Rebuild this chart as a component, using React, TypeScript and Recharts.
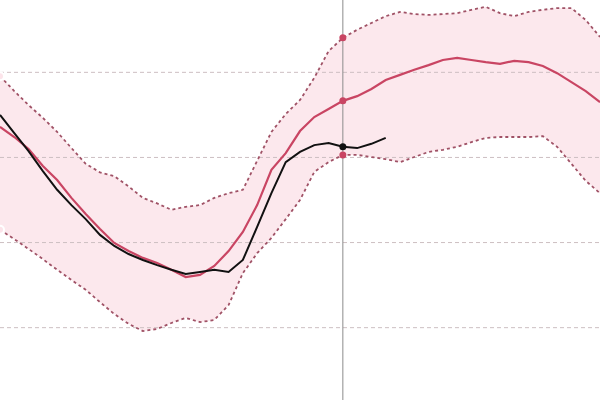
import React from 'react'
import { Area, ComposedChart, Line, ReferenceLine, XAxis, YAxis } from 'recharts'

// one value per step, step 24 is "today"
const upper = [
  79.1, 75.6, 72.3, 69.3, 66.0, 62.2, 58.5, 56.5, 55.6, 53.2, 50.5, 49.2, 47.7, 48.4, 48.8,
  50.5, 51.6, 52.4, 59.2, 66.0, 70.2, 73.5, 78.7, 85.0, 88.1, 90.0, 91.6, 93.2, 94.2, 93.7,
  93.5, 93.7, 93.9, 94.7, 95.4, 93.9, 93.2, 94.2, 94.7, 95.1, 95.1, 92.3, 88.3,
]
const lower = [
  43.0, 40.8, 38.5, 36.1, 33.6, 31.2, 28.9, 26.0, 23.2, 20.9, 19.2, 19.7, 21.1, 22.3, 21.3,
  21.8, 25.3, 32.8, 37.5, 41.1, 45.5, 50.0, 56.6, 58.9, 60.6, 60.6, 60.1, 59.6, 58.9, 60.1,
  61.3, 61.8, 62.5, 63.6, 64.6, 64.8, 64.8, 64.8, 65.0, 62.5, 58.5, 54.5, 51.6,
]
const mean = [
  67.2, 64.8, 62.0, 58.0, 54.7, 50.5, 46.7, 43.2, 39.9, 38.0, 36.4, 35.2, 33.6, 31.9, 32.4,
  34.5, 38.0, 42.5, 48.8, 57.1, 61.0, 66.2, 69.5, 71.4, 73.3, 74.4, 76.1, 78.2, 79.4, 80.6,
  81.7, 82.9, 83.4, 82.9, 82.4, 82.0, 82.7, 82.4, 81.5, 79.8, 77.7, 75.6, 73.0,
]
const actual = [
  70.0, 65.7, 61.5, 56.8, 52.4, 48.8, 45.5, 41.8, 39.2, 37.3, 35.9, 34.7, 33.6, 32.6, 33.1,
  33.6, 33.1, 35.9, 43.7, 51.6, 58.9, 61.3, 62.9, 63.4, 62.5, 62.2, 63.2, 64.6,
]
const TODAY = 24
const gridTicks = [20, 40, 60, 80]

const data = mean.map((m, i) => ({
  i,
  band: [lower[i], upper[i]],
  upper: upper[i],
  lower: lower[i],
  mean: m,
  actual: i < actual.length ? actual[i] : null,
}))

const RED = '#c94563'
const DOT_LINE = '#a05266'

function todayDot(color: string) {
  return (props: any) => {
    const { cx, cy, index } = props
    if (index !== TODAY || cx == null || cy == null) return <g key={`d${index}`} />
    return <circle key={`d${index}`} cx={cx} cy={cy} r={3.5} fill={color} stroke="none" />
  }
}

export default function App() {
  return (
    <div style={{ position: 'absolute', left: 0, top: 0, width: 600, height: 400, background: '#fff' }}>
      <ComposedChart width={600} height={400} data={data} margin={{ top: 0, right: 0, bottom: 0, left: 0 }}>
        <XAxis type="number" dataKey="i" domain={[0, 42]} hide />
        <YAxis domain={[3, 97]} ticks={gridTicks} hide />
        <Area
          type="linear"
          dataKey="band"
          fill="#fce4ea"
          fillOpacity={0.85}
          stroke="none"
          isAnimationActive={false}
        />
        {gridTicks.map((t) => (
          <ReferenceLine key={t} y={t} stroke="#cdbfc2" strokeDasharray="4 3" strokeWidth={1} />
        ))}
        <ReferenceLine x={TODAY} stroke="#8c8c8c" strokeWidth={1} />
        <Line type="linear" dataKey="upper" stroke={DOT_LINE} strokeWidth={1.8} strokeDasharray="3 3" dot={todayDot(RED)} activeDot={false} isAnimationActive={false} />
        <Line type="linear" dataKey="lower" stroke={DOT_LINE} strokeWidth={1.8} strokeDasharray="3 3" dot={todayDot(RED)} activeDot={false} isAnimationActive={false} />
        <Line type="linear" dataKey="mean" stroke={RED} strokeWidth={2.2} dot={todayDot(RED)} activeDot={false} isAnimationActive={false} />
        <Line type="linear" dataKey="actual" stroke="#111" strokeWidth={2} dot={todayDot('#111')} activeDot={false} isAnimationActive={false} />
      </ComposedChart>
    </div>
  )
}
